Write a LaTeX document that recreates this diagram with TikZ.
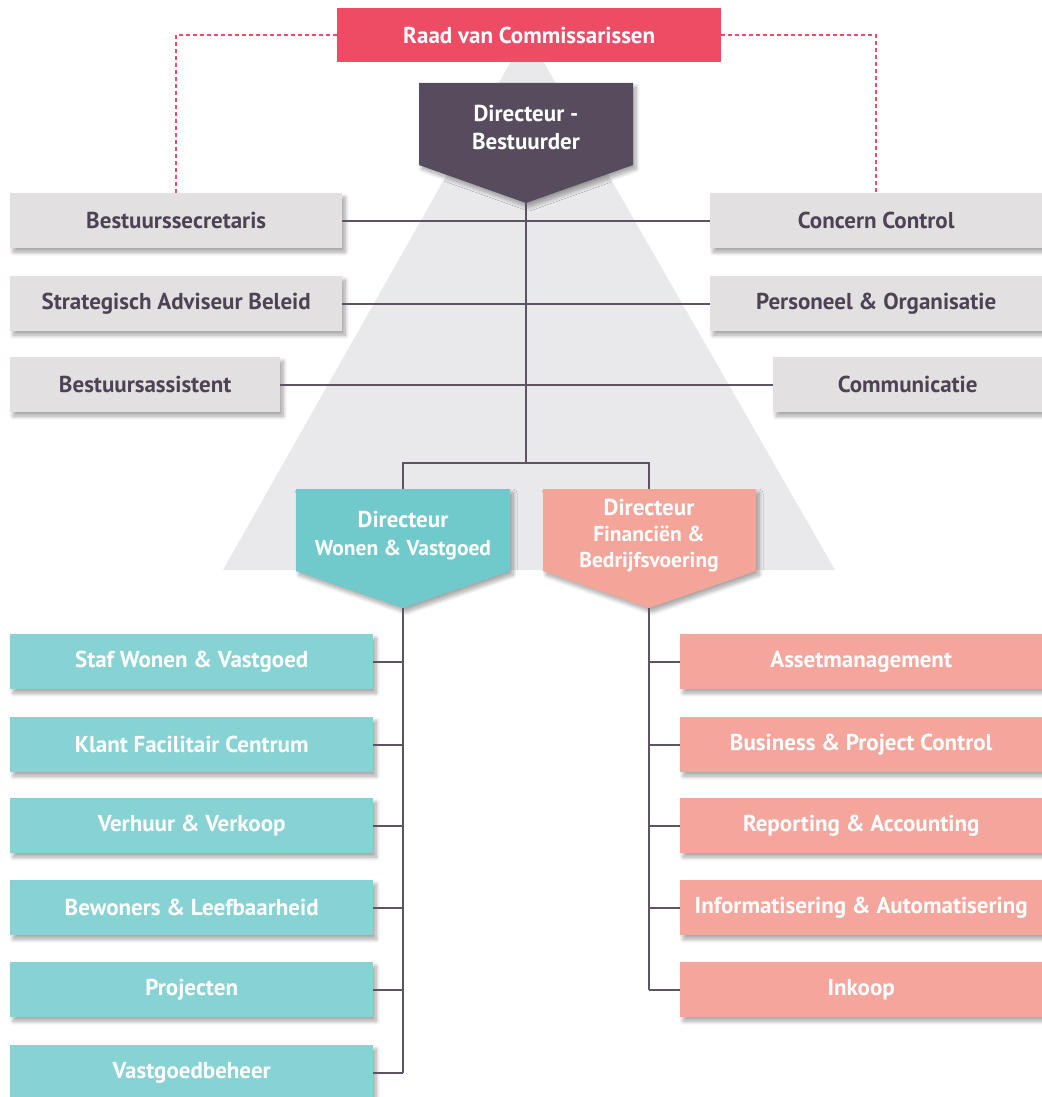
\documentclass[tikz,border=0pt]{standalone}
\usepackage{fontspec}
\setmainfont{PT Sans}
\usetikzlibrary{shadows.blur}

\definecolor{raad}{HTML}{EE4C65}
\definecolor{dbfill}{HTML}{574B5E}
\definecolor{greybox}{HTML}{E2E0E1}
\definecolor{pyramid}{HTML}{E9E9EB}
\definecolor{greytext}{HTML}{4E4355}
\definecolor{linkline}{HTML}{5D5363}
\definecolor{tealdir}{HTML}{70CACB}
\definecolor{tealbox}{HTML}{87D2D3}
\definecolor{salmondir}{HTML}{F4A59A}
\definecolor{salmonbox}{HTML}{F4A69D}

\tikzset{
  softshadow/.style={blur shadow={shadow xshift=3pt, shadow yshift=-4pt,
      shadow blur radius=4pt, shadow blur steps=8, shadow opacity=35}},
  unit/.style={rectangle, anchor=north west, inner sep=0pt, minimum height=55pt,
      font=\fontsize{23}{27}\selectfont\bfseries, softshadow},
  staffbox/.style={unit, fill=greybox, text=greytext},
  wonenbox/.style={unit, fill=tealbox, text=white},
  finbox/.style={unit, fill=salmonbox, text=white},
  raadbox/.style={rectangle, anchor=north west, inner sep=0pt, fill=raad, text=white,
      minimum width=384pt, minimum height=54pt, font=\fontsize{23}{27}\selectfont\bfseries},
  dirtext/.style={align=center, text=white, inner sep=0pt,
      font=\fontsize{23}{28}\selectfont\bfseries},
  link/.style={draw=linkline, line width=2pt},
  oversight/.style={draw=raad, line width=1.5pt, dash pattern=on 4pt off 3pt},
}

\begin{document}
\begin{tikzpicture}[x=1pt, y=-1pt]
\useasboundingbox (0,0) rectangle (1041,1097);

% background pyramid
\fill[pyramid] (527,33) -- (223,570) -- (835,570) -- cycle;

% supervisory board
\node[raadbox] (raad) at (337,8) {Raad van Commissarissen};

% director-governor pentagon
\coordinate (db-tip) at (526,203);
\fill[dbfill, softshadow] (419,83) -- (633,83) -- (633,165) -- (db-tip) -- (419,165) -- cycle;
\node[dirtext] (db) at (526,127) {Directeur -\\Bestuurder};

% staff units
\node[staffbox, minimum width=332pt] (bs)  at (10,193)  {Bestuurssecretaris};
\node[staffbox, minimum width=332pt] (sab) at (10,276)  {Strategisch Adviseur Beleid};
\node[staffbox, minimum width=270pt] (ba)  at (10,357)  {Bestuursassistent};
\node[staffbox, minimum width=332pt] (cc)  at (710,193) {Concern Control};
\node[staffbox, minimum width=332pt] (po)  at (710,276) {Personeel \& Organisatie};
\node[staffbox, minimum width=269pt] (com) at (773,357) {Communicatie};

% dashed oversight lines
\draw[oversight] (raad.west) -| (bs.north);
\draw[oversight] (raad.east) -| (cc.north);

% two directors
\coordinate (br) at (526,463);
\coordinate (dw-top) at (403,489);
\coordinate (df-top) at (649,489);
\coordinate (dw-tip) at (403,608);
\coordinate (df-tip) at (649,608);
\fill[tealdir, softshadow] (296,489) -- (510,489) -- (510,571) -- (dw-tip) -- (296,571) -- cycle;
\fill[salmondir, softshadow] (543,489) -- (756,489) -- (756,571) -- (df-tip) -- (543,571) -- cycle;
\node[dirtext] (dw) at (403,536) {Directeur\\{\fontsize{21.5}{28}\selectfont Wonen \& Vastgoed}};
\node[dirtext, font=\fontsize{21.5}{26}\selectfont\bfseries] (df) at (649,536)
  {{\fontsize{23}{26}\selectfont Directeur}\\Financiën \&\\Bedrijfsvoering};

% housing & real estate departments
\node[wonenbox, minimum width=363pt] (swv) at (10,634)  {Staf Wonen \& Vastgoed};
\node[wonenbox, minimum width=363pt] (kfc) at (10,717)  {Klant Facilitair Centrum};
\node[wonenbox, minimum width=363pt] (vv)  at (10,798)  {Verhuur \& Verkoop};
\node[wonenbox, minimum width=363pt] (bl)  at (10,880)  {Bewoners \& Leefbaarheid};
\node[wonenbox, minimum width=363pt] (pr)  at (10,962)  {Projecten};
\node[wonenbox, minimum width=363pt] (vgb) at (10,1045) {Vastgoedbeheer};

% finance & operations departments
\node[finbox, minimum width=362pt] (am)  at (680,634) {Assetmanagement};
\node[finbox, minimum width=362pt] (bpc) at (680,717) {Business \& Project Control};
\node[finbox, minimum width=362pt] (ra)  at (680,798) {Reporting \& Accounting};
\node[finbox, minimum width=362pt] (ia)  at (680,880) {Informatisering \& Automatisering};
\node[finbox, minimum width=362pt] (ink) at (680,962) {Inkoop};

% reporting lines
\draw[link] (db-tip) -- (br);
\foreach \n in {bs,sab,ba} \draw[link] (\n.east) -- (\n.east -| db-tip);
\foreach \n in {cc,po,com} \draw[link] (\n.west) -- (\n.west -| db-tip);
\draw[link] (dw-top) -- (dw-top |- br) -- (df-top |- br) -- (df-top);
\draw[link] (dw-tip) -- (dw-tip |- vgb.east);
\foreach \n in {swv,kfc,vv,bl,pr,vgb} \draw[link] (\n.east) -- (\n.east -| dw-tip);
\draw[link] (df-tip) -- (df-tip |- ink.west);
\foreach \n in {am,bpc,ra,ia,ink} \draw[link] (\n.west) -- (\n.west -| df-tip);
\end{tikzpicture}
\end{document}
